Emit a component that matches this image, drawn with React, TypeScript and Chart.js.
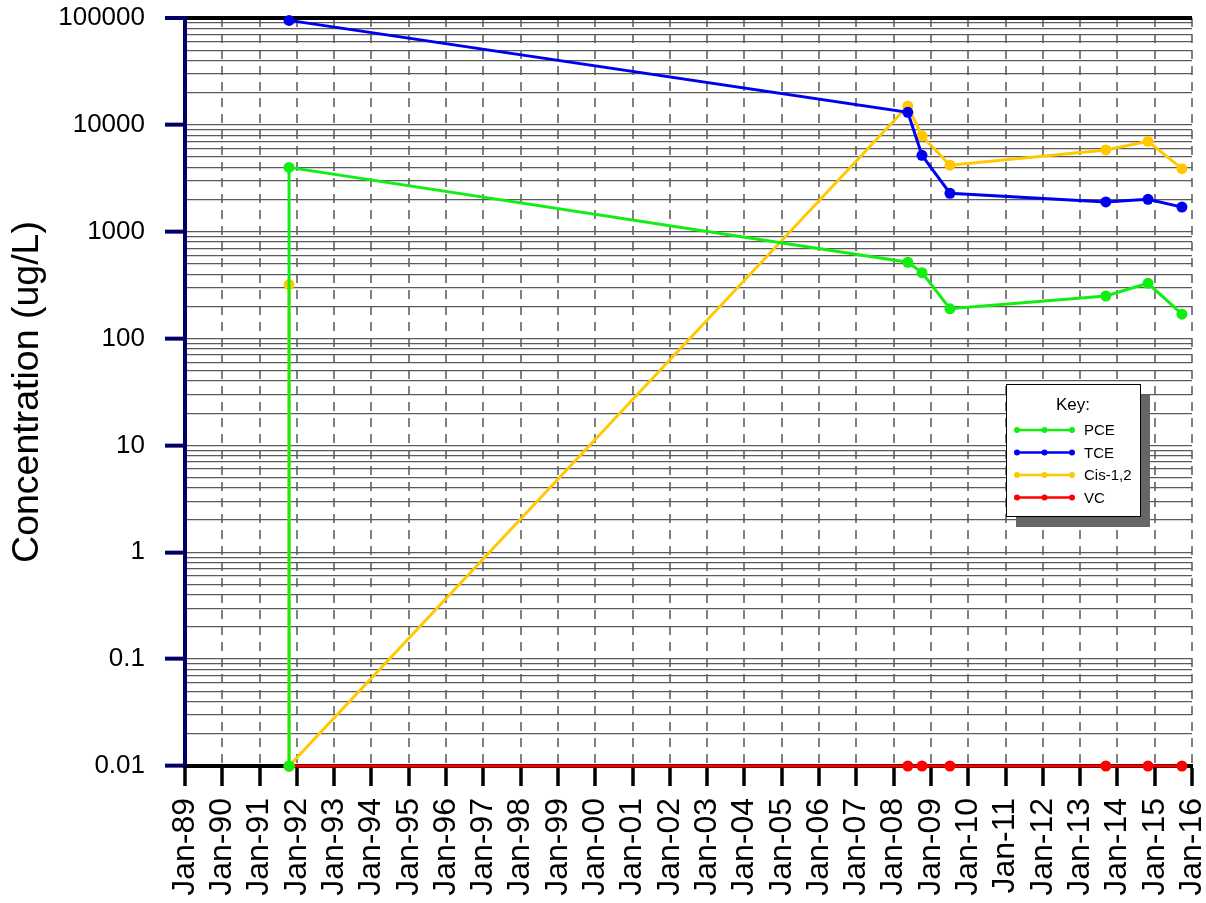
import React, { useEffect, useRef } from 'react';
import { Chart, registerables } from 'chart.js';

Chart.register(...registerables);

// ---- data ----
const seriesNames = ['PCE', 'TCE', 'Cis-1,2', 'VC'];
const seriesColors = ['#12ee12', '#0000f0', '#ffc800', '#ff0000'];

const pceDates = [1991.79, 1991.79, 2008.38, 2008.76, 2009.51, 2013.69, 2014.82, 2015.73];
const pceValues = [0.01, 4000, 518, 414, 190, 250, 329, 169];

const tceDates = [1991.79, 2008.38, 2008.76, 2009.51, 2013.69, 2014.82, 2015.73];
const tceValues = [95000, 13100, 5190, 2290, 1900, 2010, 1700];

const cisDates = [1991.79, 1991.79, 2008.38, 2008.76, 2009.51, 2013.69, 2014.82, 2015.73];
const cisValues = [320, 0.01, 15000, 7870, 4190, 5820, 7020, 3890];

const vcDates = [1991.79, 2008.38, 2008.76, 2009.51, 2013.69, 2014.82, 2015.73];
const vcValues = [0.01, 0.01, 0.01, 0.01, 0.01, 0.01, 0.01];

const xTickYears = [1989, 1990, 1991, 1992, 1993, 1994, 1995, 1996, 1997, 1998, 1999, 2000, 2001, 2002,
  2003, 2004, 2005, 2006, 2007, 2008, 2009, 2010, 2011, 2012, 2013, 2014, 2015, 2016];
const xTickLabels = ['Jan-89', 'Jan-90', 'Jan-91', 'Jan-92', 'Jan-93', 'Jan-94', 'Jan-95', 'Jan-96',
  'Jan-97', 'Jan-98', 'Jan-99', 'Jan-00', 'Jan-01', 'Jan-02', 'Jan-03', 'Jan-04', 'Jan-05', 'Jan-06',
  'Jan-07', 'Jan-08', 'Jan-09', 'Jan-10', 'Jan-11', 'Jan-12', 'Jan-13', 'Jan-14', 'Jan-15', 'Jan-16'];

const yDecades = [0.01, 0.1, 1, 10, 100, 1000, 10000, 100000];
const yDecadeLabels = ['0.01', '0.1', '1', '10', '100', '1000', '10000', '100000'];
const yMinorMultiples = [1, 2, 3, 4, 5, 6, 7, 8, 9];

const yTitle = 'Concentration (ug/L)';
const keyTitle = 'Key:';

const FONT = 'Arial, "Liberation Sans", sans-serif';

function decadeIndex(v: number | undefined): number {
  if (v === undefined || v === null) return -1;
  const lv = Math.log10(v);
  for (let i = 0; i < yDecades.length; i++) {
    if (Math.abs(lv - Math.log10(yDecades[i])) < 1e-6) return i;
  }
  return -1;
}

const yTickValues: number[] = [];
yDecades.forEach((d, i) => {
  if (i === yDecades.length - 1) {
    yTickValues.push(d);
  } else {
    yMinorMultiples.forEach((m) => yTickValues.push(d * m));
  }
});

const keyPlugin = {
  id: 'keyBox',
  afterDatasetsDraw(chart: any) {
    const { ctx, chartArea } = chart;
    const w = 134;
    const h = 132;
    const left = chartArea.right - 186;
    const top = chartArea.top + 366;
    ctx.save();
    ctx.fillStyle = '#666666';
    ctx.fillRect(left + 10, top + 11, w, h);
    ctx.fillStyle = '#ffffff';
    ctx.fillRect(left, top, w, h);
    ctx.strokeStyle = '#000000';
    ctx.lineWidth = 1;
    ctx.strokeRect(left + 0.5, top + 0.5, w, h);
    ctx.fillStyle = '#000000';
    ctx.font = `17px ${FONT}`;
    ctx.textAlign = 'center';
    ctx.textBaseline = 'middle';
    ctx.fillText(keyTitle, left + 67, top + 21);
    chart.data.datasets.forEach((ds: any, i: number) => {
      const y = top + 46 + i * 22.5;
      const x0 = left + 11;
      const x1 = left + 66;
      ctx.strokeStyle = ds.borderColor;
      ctx.lineWidth = 2.5;
      ctx.beginPath();
      ctx.moveTo(x0, y);
      ctx.lineTo(x1, y);
      ctx.stroke();
      ctx.fillStyle = ds.borderColor;
      [x0, (x0 + x1) / 2, x1].forEach((px) => {
        ctx.beginPath();
        ctx.arc(px, y, 3, 0, Math.PI * 2);
        ctx.fill();
      });
      ctx.fillStyle = '#000000';
      ctx.font = `15px ${FONT}`;
      ctx.textAlign = 'left';
      ctx.fillText(ds.label, left + 78, y + 1);
    });
    ctx.restore();
  },
};

function makeData(dates: number[], values: number[]) {
  return dates.map((d, i) => ({ x: d, y: values[i] }));
}

function zeroPadding(scale: any) {
  scale.paddingTop = 0;
  scale.paddingBottom = 0;
  scale.paddingLeft = 0;
  scale.paddingRight = 0;
}

export default function App() {
  const ref = useRef<HTMLCanvasElement | null>(null);

  useEffect(() => {
    if (!ref.current) return;
    const allDates = [pceDates, tceDates, cisDates, vcDates];
    const allValues = [pceValues, tceValues, cisValues, vcValues];
    const datasets = seriesNames.map((name, i) => ({
      label: name,
      data: makeData(allDates[i], allValues[i]),
      borderColor: seriesColors[i],
      backgroundColor: seriesColors[i],
      pointBackgroundColor: seriesColors[i],
      pointBorderColor: seriesColors[i],
      borderWidth: 3,
      pointRadius: 5.5,
      pointHoverRadius: 5.5,
      pointBorderWidth: 0,
      tension: 0,
      clip: false as any,
      fill: false,
    }));

    const chart = new Chart(ref.current, {
      type: 'line',
      data: { datasets },
      plugins: [keyPlugin],
      options: {
        animation: false,
        responsive: false,
        events: [],
        layout: { padding: { top: 18, right: 14, left: 0, bottom: 0 } },
        plugins: {
          legend: { display: false },
          tooltip: { enabled: false },
        },
        scales: {
          x: {
            type: 'linear',
            min: 1989,
            max: 2016,
            afterBuildTicks: (scale: any) => {
              scale.ticks = xTickYears.map((v) => ({ value: v }));
            },
            afterFit: (scale: any) => {
              scale.height = 137;
              zeroPadding(scale);
            },
            grid: {
              color: '#808080',
              lineWidth: 2,
              tickColor: '#000000',
              tickWidth: 3.5,
              tickLength: 20,
              tickBorderDash: [],
            } as any,
            border: { color: '#000000', width: 4, dash: [9, 7] } as any,
            ticks: {
              autoSkip: false,
              minRotation: 90,
              maxRotation: 90,
              padding: 12,
              color: '#000000',
              font: { size: 32, family: FONT },
              callback: (v: any) => {
                const idx = xTickYears.indexOf(Math.round(Number(v)));
                return idx >= 0 ? xTickLabels[idx] : '';
              },
            },
          },
          y: {
            type: 'logarithmic',
            min: 0.01,
            max: 100000,
            afterBuildTicks: (scale: any) => {
              scale.ticks = yTickValues.map((v) => ({ value: v }));
            },
            afterFit: (scale: any) => {
              scale.width = 185;
              zeroPadding(scale);
            },
            grid: {
              color: (c: any) => (decadeIndex(c.tick?.value) === yDecades.length - 1 ? '#000000' : '#5a5a5a'),
              lineWidth: (c: any) => (decadeIndex(c.tick?.value) === yDecades.length - 1 ? 4 : 1.3),
              tickColor: (c: any) => (decadeIndex(c.tick?.value) >= 0 ? '#000066' : 'rgba(0,0,0,0)'),
              tickWidth: 4,
              tickLength: 20,
            } as any,
            border: { color: '#000066', width: 4 },
            title: {
              display: true,
              text: yTitle,
              color: '#000000',
              font: { size: 37.5, family: FONT },
              padding: { top: 5, bottom: 0 },
            },
            ticks: {
              autoSkip: false,
              padding: 20,
              color: '#000000',
              font: { size: 26, family: FONT },
              callback: (v: any) => {
                const idx = decadeIndex(Number(v));
                return idx >= 0 ? yDecadeLabels[idx] : '';
              },
            },
          },
        },
      } as any,
    });
    return () => chart.destroy();
  }, []);

  return (
    <div style={{ position: 'fixed', left: 0, top: 0, width: 1206, height: 903, background: '#ffffff' }}>
      <canvas ref={ref} width={1206} height={903} style={{ display: 'block', width: 1206, height: 903 }} />
    </div>
  );
}
